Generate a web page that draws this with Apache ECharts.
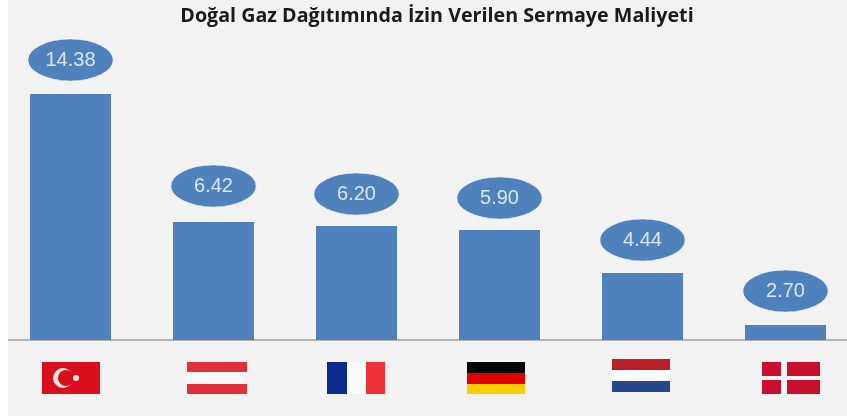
<!DOCTYPE html>
<html>
<head>
<meta charset="utf-8">
<style>
  html, body { margin: 0; padding: 0; background: #fff; }
</style>
</head>
<body>
<div id="chart" style="width: 847px; height: 419px;"></div>
<script src="https://cdn.jsdelivr.net/npm/echarts@6/dist/echarts.min.js"></script>
<script>
const countries = ["Türkiye", "Avusturya", "Fransa", "Almanya", "Hollanda", "Danimarka"];
const labelValues = ["14.38", "6.42", "6.20", "5.90", "4.44", "2.70"];
// the bars in the picture are not to scale with their labels, so heights are read off separately
const barHeights = [246, 118, 114, 110, 67, 15];
const bubbleHeights = [280, 154, 146, 142, 100, 49];
const flagOffsets = [0, 2, -1, -4, -2, 5];
const titleText = "Doğal Gaz Dağıtımında İzin Verilen Sermaye Maliyeti";

// flag shapes, in a 58x32 box
const flags = [
  { bg: "#d9101c", rects: [], crescent: true },
  { bg: "#f8f8f8", rects: [[0, 0, 60, 10, "#e0303c"], [0, 22, 60, 10, "#e0303c"]] },
  { bg: "#fbfbfb", rects: [[0, 0, 20, 32, "#0a2a8c"], [39, 0, 19, 32, "#ee3338"]] },
  { bg: "#e00000", rects: [[0, 0, 58, 11, "#050505"], [0, 22, 58, 10, "#ffcc00"]] },
  { bg: "#fbfbfb", rects: [[0, -3, 58, 11, "#b81f28"], [0, 19, 58, 11, "#26478c"]] },
  { bg: "#c8102e", rects: [[19, 0, 6, 32, "#f6f6f6"], [0, 14, 58, 4, "#f6f6f6"]] }
];

function renderFlag(params, api) {
  const i = api.value(0);
  const base = api.coord([i, 0]);
  const x = Math.round(base[0] - 29 + flagOffsets[i]);
  const y = base[1] + 22;
  const flag = flags[i];
  const children = [];
  // the dutch flag sits a bit higher, its stripes carry the offset
  const bgY = i === 4 ? -3 : 0;
  children.push({ type: "rect", shape: { x: x, y: y + bgY, width: 58, height: 32 }, style: { fill: flag.bg } });
  for (const r of flag.rects) {
    children.push({ type: "rect", shape: { x: x + r[0], y: y + r[1], width: r[2], height: r[3] }, style: { fill: r[4] } });
  }
  if (flag.crescent) {
    children.push({ type: "circle", shape: { cx: x + 21, cy: y + 16, r: 10 }, style: { fill: "#f6e6e6" } });
    children.push({ type: "circle", shape: { cx: x + 24, cy: y + 16, r: 8 }, style: { fill: flag.bg } });
    children.push({ type: "circle", shape: { cx: x + 34, cy: y + 16, r: 3 }, style: { fill: "#f6e6e6" } });
  }
  return { type: "group", children: children };
}

const chart = echarts.init(document.getElementById("chart"));
chart.setOption({
  animation: false,
  backgroundColor: "#f2f2f2",
  title: {
    text: titleText,
    left: 432,
    top: 1,
    textAlign: "center",
    textStyle: { fontFamily: "Open Sans", fontSize: 19.7, fontWeight: "bold", color: "#1a1a1a" }
  },
  grid: { left: -1, top: 0, width: 858, height: 340, outerBoundsMode: "none" },
  xAxis: {
    type: "category",
    data: countries,
    axisLine: { lineStyle: { color: "#b3b3b3", width: 2 } },
    axisTick: { show: false },
    axisLabel: { show: false }
  },
  yAxis: { type: "value", min: 0, max: 340, show: false },
  series: [
    {
      type: "bar",
      data: barHeights,
      barWidth: 81,
      itemStyle: { color: "#4f81bd" }
    },
    {
      type: "scatter",
      data: bubbleHeights,
      symbol: "circle",
      symbolSize: [86, 42],
      itemStyle: { color: "#4f81bd", borderColor: "#eaf0f7", borderWidth: 1, opacity: 1 },
      label: {
        show: true,
        position: "inside",
        formatter: p => labelValues[p.dataIndex],
        fontFamily: "Liberation Sans",
        fontSize: 20,
        color: "#dce6f1"
      }
    },
    {
      type: "custom",
      data: countries.map((c, i) => [i]),
      encode: { x: 0 },
      clip: false,
      silent: true,
      renderItem: renderFlag
    }
  ],
  graphic: [
    { type: "rect", z: 100, shape: { x: 0, y: 0, width: 8, height: 419 }, style: { fill: "#fff" } },
    { type: "rect", z: 100, shape: { x: 0, y: 416, width: 847, height: 3 }, style: { fill: "#fff" } }
  ]
});
</script>
</body>
</html>
